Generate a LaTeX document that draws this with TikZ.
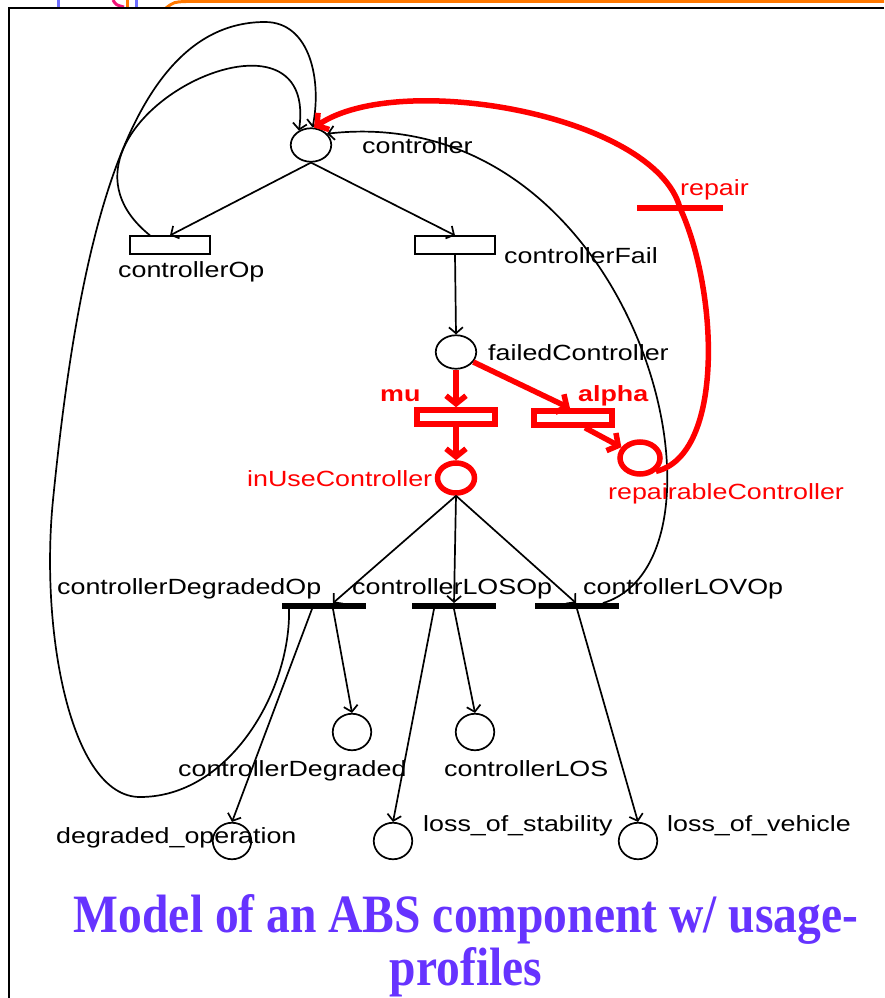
\documentclass[tikz,border=0pt]{standalone}
\usepackage{fontspec}
\setmainfont{Liberation Sans}
\newfontfamily\lblfont[FakeStretch=1.22]{Liberation Sans}
\newfontfamily\titlefont[FakeStretch=0.88]{Liberation Serif}
\usetikzlibrary{arrows.meta,shapes.geometric}
\definecolor{titleblue}{RGB}{102,51,255}
\definecolor{slideorange}{RGB}{255,120,0}
\definecolor{slideblue}{RGB}{110,110,255}
\definecolor{slidepink}{RGB}{240,20,120}

\begin{document}
\begin{tikzpicture}[x=1pt,y=-1pt,
    place/.style={draw=black, fill=white, ellipse, line width=1.7pt, minimum width=40.5pt, minimum height=33.5pt, inner sep=0pt},
    lowplace/.style={draw=black, ellipse, line width=1.7pt, minimum width=38.5pt, minimum height=36.5pt, inner sep=0pt},
    redplace/.style={draw=red, fill=white, ellipse, line width=5.5pt, minimum width=37pt, minimum height=30pt, inner sep=0pt},
    trans/.style={draw=black, fill=white, rectangle, line width=1.7pt, minimum width=79.5pt, minimum height=17.5pt, inner sep=0pt},
    redtrans/.style={draw=red, fill=white, rectangle, line width=5.5pt, minimum width=78pt, minimum height=14pt, inner sep=0pt},
    bar/.style={fill=black, rectangle, minimum width=84pt, minimum height=5.5pt, inner sep=0pt},
    redbar/.style={fill=red, rectangle, minimum width=86pt, minimum height=5.5pt, inner sep=0pt},
    arc/.style={line width=1.7pt, -{Straight Barb[length=6pt,width=14pt]}},
    redarc/.style={red, line width=5.5pt, -{Straight Barb[length=8pt,width=20pt]}},
    lbl/.style={anchor=base west, inner sep=0pt, font=\lblfont\fontsize{22}{26}\selectfont},
    redlbl/.style={lbl, text=red},
    ratelbl/.style={lbl, text=red, font=\lblfont\bfseries\fontsize{22}{26}\selectfont},
    titletext/.style={anchor=base, inner sep=0pt, text=titleblue, font=\titlefont\bfseries\fontsize{54}{60}\selectfont}]

  \useasboundingbox (0,0) rectangle (884,998);

  % slide frame
  \draw[slideorange, line width=3pt] (166,8) .. controls (174,2) .. (186,1.5) -- (884,1.5);
  \draw[slideblue, line width=3pt] (58,0) -- (58,7);
  \draw[slidepink, line width=3pt] (113,0) .. controls (116,5) .. (124,7);
  \draw[slideorange, line width=3pt] (127,0) -- (127,7);
  \draw[slideblue, line width=3pt] (136,0) -- (136,7);
  \draw[line width=2pt] (9,998) -- (9,8) -- (884,8);

  % places and transitions
  \node[place] (controller) at (311,145) {};
  \node[trans] (ctrlOp) at (170,245) {};
  \node[trans] (ctrlFail) at (455,245) {};
  \node[place] (failed) at (456,352) {};
  \node[redtrans] (mu) at (456,417) {};
  \node[redtrans] (alpha) at (573,418) {};
  \node[redplace] (inUse) at (456,478) {};
  \node[redplace, minimum width=40pt, minimum height=32pt] (repairable) at (640,458) {};
  \node[redbar] (repair) at (680,208) {};
  \node[bar] (degOp) at (324,606) {};
  \node[bar] (losOp) at (454,606) {};
  \node[bar] (lovOp) at (577,606) {};
  \node[lowplace] (degraded) at (352,732) {};
  \node[lowplace] (los) at (475,732) {};
  \node[lowplace] (degOper) at (232,841) {};
  \node[lowplace] (lossStab) at (393,841) {};
  \node[lowplace] (lossVeh) at (638,841) {};

  \coordinate (loopLow) at (140,797);
  \coordinate (loopLeft) at (53,500);
  \coordinate (loopTop) at (265,22);

  % black arcs
  \draw[arc] (controller.south) -- (ctrlOp.north);
  \draw[arc] (controller.south) -- (ctrlFail.north);
  \draw[arc] (ctrlFail.south) -- (failed.north);
  \draw[arc] ([xshift=-20pt]ctrlOp.north) .. controls +(-130,-105) and +(22,-152) .. (controller.130);
  \draw[arc] (inUse.south) -- ([xshift=9pt]degOp.north);
  \draw[arc] (inUse.south) -- (losOp.north);
  \draw[arc] (inUse.south) -- ([xshift=-1pt]lovOp.north);
  \draw[arc] ([xshift=9pt]degOp.south) -- (degraded.north);
  \draw[arc] ([xshift=-12pt]degOp.south) -- (degOper.north);
  \draw[arc] ([xshift=-20pt]losOp.south) -- (lossStab.north);
  \draw[arc] (losOp.south) -- (los.north);
  \draw[arc] (lovOp.south) -- (lossVeh.north);
  \draw[arc] ([xshift=26pt]lovOp.north) .. controls +(147,-45) and +(312,-35) .. (controller.35);
  \draw[arc] ([xshift=-35pt]degOp.south) .. controls (291,690) and (230,797) .. (loopLow)
    .. controls (70,797) and (40,630) .. (loopLeft)
    .. controls (78,250) and (125,22) .. (loopTop)
    .. controls (310,22) and (322,80) .. (controller.85);

  % red arcs
  \draw[redarc] (failed.south) -- (mu.north);
  \draw[redarc] (mu.south) -- (inUse.north);
  \draw[redarc] (failed.-30) -- ([xshift=-3pt]alpha.north);
  \draw[redarc] ([xshift=12pt]alpha.south) -- (repairable.150);
  \draw[red, line width=5.5pt] (repairable.-40) .. controls (725,455) and (718,290) .. (repair.center);
  \draw[redarc] (repair.center) .. controls (655,115) and (400,70) .. (controller.80);

  % labels
  \node[lbl] (controllerLbl) at (362,153) {controller};
  \node[lbl] (ctrlOpLbl) at (118,277) {controllerOp};
  \node[lbl] (ctrlFailLbl) at (504,263) {controllerFail};
  \node[lbl] (failedLbl) at (488,360) {failedController};
  \node[ratelbl] (muLbl) at (380,401) {mu};
  \node[ratelbl] (alphaLbl) at (578,401) {alpha};
  \node[redlbl] (repairLbl) at (680,195) {repair};
  \node[redlbl] (inUseLbl) at (247,486) {inUseController};
  \node[redlbl] (repairableLbl) at (608,499) {repairableController};
  \node[lbl] (degOpLbl) at (57,594) {controllerDegradedOp};
  \node[lbl] (losOpLbl) at (352,594) {controllerLOSOp};
  \node[lbl] (lovOpLbl) at (583,594) {controllerLOVOp};
  \node[lbl] (degradedLbl) at (178,776) {controllerDegraded};
  \node[lbl] (losLbl) at (444,776) {controllerLOS};
  \node[lbl] (degOperLbl) at (56,843) {degraded\_operation};
  \node[lbl] (lossStabLbl) at (423,831) {loss\_of\_stability};
  \node[lbl] (lossVehLbl) at (667,831) {loss\_of\_vehicle};

  % title
  \node[titletext] (title1) at (466,932) {Model of an ABS component w/ usage-};
  \node[titletext] (title2) at (466,985) {profiles};
\end{tikzpicture}
\end{document}
